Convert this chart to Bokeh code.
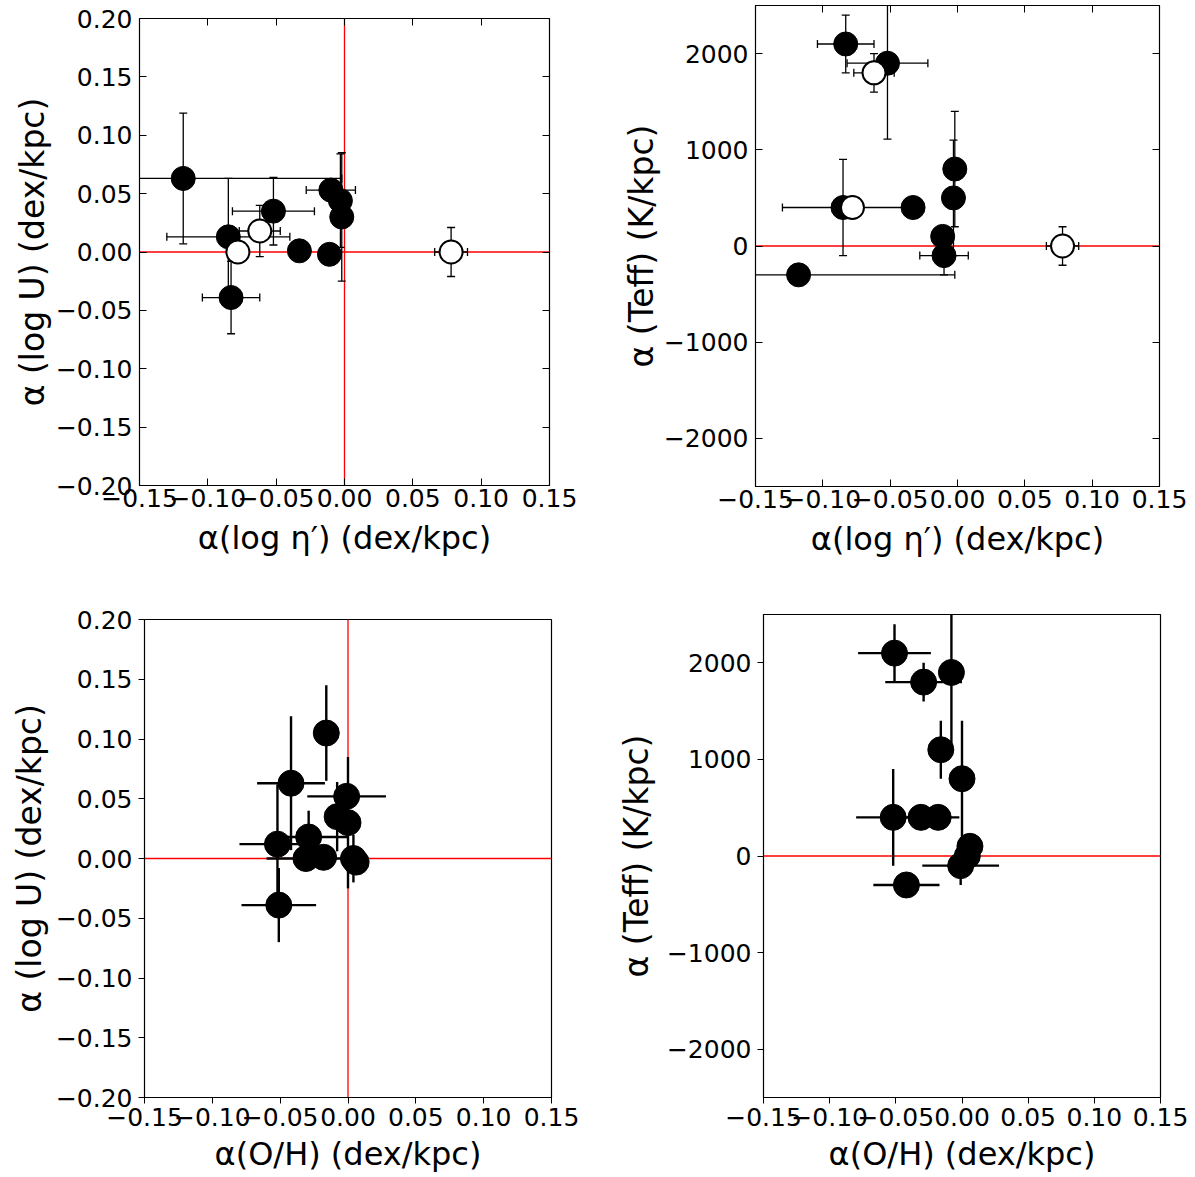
import numpy as np
from bokeh.plotting import figure
from bokeh.models import (ColumnDataSource, Whisker, TeeHead, Span, FixedTicker,
                          LinearAxis, Range1d)
from bokeh.layouts import column, row
from bokeh.embed import file_html
from bokeh.resources import INLINE

# ---------------- tick values and labels ----------------
grad_ticks = [-0.15, -0.10, -0.05, 0.0, 0.05, 0.10, 0.15]
grad_tick_labels = ["\u22120.15", "\u22120.10", "\u22120.05", "0.00", "0.05", "0.10", "0.15"]
logu_ticks = [-0.20, -0.15, -0.10, -0.05, 0.0, 0.05, 0.10, 0.15, 0.20]
logu_tick_labels = ["\u22120.20", "\u22120.15", "\u22120.10", "\u22120.05", "0.00",
                    "0.05", "0.10", "0.15", "0.20"]
teff_ticks = [-2000, -1000, 0, 1000, 2000]
teff_tick_labels = ["\u22122000", "\u22121000", "0", "1000", "2000"]

# ---------------- top row: against alpha(log eta') ----------------
eta_fill = [-0.118, -0.085, -0.083, -0.052, -0.033, -0.010, -0.003, -0.002, -0.011]
eta_fill_err = [0.116, 0.045, 0.021, 0.030, 0.004, 0.018, 0.004, 0.004, 0.004]
logu_fill = [0.063, 0.013, -0.039, 0.035, 0.001, 0.053, 0.044, 0.030, -0.002]
logu_fill_err = [0.056, 0.050, 0.031, 0.029, 0.004, 0.008, 0.040, 0.055, 0.004]
teff_fill = [-300, 400, 2100, 1900, 400, -100, 500, 800, 100]
teff_fill_err = [50, 500, 300, 790, 50, 200, 600, 600, 50]

eta_open = [-0.062, -0.078, 0.078]
eta_open_err = [0.015, 0.005, 0.012]
logu_open = [0.018, 0.000, 0.000]
logu_open_err = [0.022, 0.005, 0.021]
teff_open = [1800, 400, 0]
teff_open_err = [200, 50, 200]

# ---------------- bottom row: against alpha(O/H) ----------------
oh = [-0.016, -0.042, -0.001, -0.008, 0.000, -0.052, -0.029, -0.031, -0.018, 0.004, 0.006, -0.051]
oh_err = [0.003, 0.025, 0.029, 0.003, 0.003, 0.028, 0.029, 0.029, 0.003, 0.003, 0.003, 0.0275]
logu_oh = [0.105, 0.063, 0.052, 0.035, 0.030, 0.012, 0.018, 0.000, 0.001, 0.000, -0.003, -0.039]
logu_oh_err = [0.040, 0.056, 0.008, 0.029, 0.055, 0.050, 0.022, 0.004, 0.004, 0.020, 0.004, 0.031]
teff_oh = [1100, -300, -100, 1900, 800, 400, 1800, 400, 400, 0, 100, 2100]
teff_oh_err = [300, 50, 200, 800, 600, 500, 200, 50, 50, 200, 100, 300]

FONT = "DejaVu Sans"
TICK_FONT_SIZE = "25px"


def style_axis(ax, ticks, labels, tick_in, tick_out, standoff=4, show_labels=True):
    ax.ticker = FixedTicker(ticks=ticks)
    ax.major_label_overrides = dict(zip(ticks, labels))
    ax.minor_tick_line_color = None
    ax.major_tick_in = tick_in
    ax.major_tick_out = tick_out
    ax.major_tick_line_color = "black"
    ax.major_tick_line_width = 1
    ax.axis_line_color = "black"
    ax.major_label_text_font = FONT
    ax.major_label_text_color = "black"
    if show_labels:
        ax.major_label_text_font_size = TICK_FONT_SIZE
        ax.major_label_standoff = standoff
    else:
        ax.major_label_text_font_size = "0px"
        ax.major_label_text_color = None
        ax.major_label_standoff = 0
        ax.axis_line_color = None


def make_panel(width, height, borders, y_range, yticks, ylabels, xlabel, ylabel,
               classic, ylabel_standoff, xtick_standoff, xlabel_standoff, vline):
    left, right, top, bottom = borders
    p = figure(width=width, height=height,
               x_range=Range1d(-0.15, 0.15), y_range=Range1d(*y_range),
               output_backend="svg", toolbar_location=None, tools="",
               min_border_left=left, min_border_right=right,
               min_border_top=top, min_border_bottom=bottom)
    p.grid.visible = False
    p.outline_line_color = "black"
    p.outline_line_width = 1.2
    p.background_fill_color = "white"
    p.border_fill_color = "white"

    t_in, t_out = (7, 0) if classic else (0, 6)
    style_axis(p.xaxis[0], grad_ticks, grad_tick_labels, t_in, t_out, standoff=xtick_standoff)
    style_axis(p.yaxis[0], yticks, ylabels, t_in, t_out, standoff=7 if classic else 6)
    p.xaxis[0].axis_label = xlabel
    p.yaxis[0].axis_label = ylabel
    p.xaxis[0].axis_label_text_font_size = "32px"
    p.yaxis[0].axis_label_text_font_size = "33px"
    for ax in (p.xaxis[0], p.yaxis[0]):
        ax.axis_label_text_font = FONT
        ax.axis_label_text_font_style = "normal"
        ax.axis_label_text_color = "black"
    p.xaxis[0].axis_label_standoff = xlabel_standoff
    p.yaxis[0].axis_label_standoff = ylabel_standoff

    if classic:
        top_ax = LinearAxis()
        right_ax = LinearAxis()
        style_axis(top_ax, grad_ticks, grad_tick_labels, 7, 0, show_labels=False)
        style_axis(right_ax, yticks, ylabels, 7, 0, show_labels=False)
        p.add_layout(top_ax, "above")
        p.add_layout(right_ax, "right")

    p.add_layout(Span(location=0, dimension="width", line_color="red",
                      line_width=1.3, level="underlay"))
    if vline:
        p.add_layout(Span(location=0, dimension="height", line_color="red",
                          line_width=1.3, level="underlay"))
    return p


def add_series(p, x, xerr, y, yerr, filled, caps, size):
    x = np.asarray(x, float)
    y = np.asarray(y, float)
    xerr = np.asarray(xerr, float)
    yerr = np.asarray(yerr, float)
    src = ColumnDataSource(dict(x=x, y=y, xl=x - xerr, xu=x + xerr,
                                yl=y - yerr, yu=y + yerr))
    lw = 1.3 if caps else 2.4
    for dim, base, lo, hi in (("height", "x", "yl", "yu"), ("width", "y", "xl", "xu")):
        if caps:
            heads = dict(upper_head=TeeHead(size=8, line_color="black", line_width=lw),
                         lower_head=TeeHead(size=8, line_color="black", line_width=lw))
        else:
            heads = dict(upper_head=None, lower_head=None)
        p.add_layout(Whisker(source=src, base=base, lower=lo, upper=hi, dimension=dim,
                             line_color="black", line_width=lw, **heads))
    if filled:
        p.scatter("x", "y", source=src, marker="circle", size=size,
                  fill_color="black", line_color="black", line_width=1)
    else:
        p.scatter("x", "y", source=src, marker="circle", size=size,
                  fill_color="white", line_color="black", line_width=2)


eta_label = "\u03b1(log \u03b7\u2032) (dex/kpc)"
oh_label = "\u03b1(O/H) (dex/kpc)"
logu_label = "\u03b1 (log U) (dex/kpc)"
teff_label = "\u03b1 (Teff) (K/kpc)"

# top-left: log U gradient vs eta' gradient
p_tl = make_panel(600, 567, (139, 51, 18, 82), (-0.20, 0.20), logu_ticks, logu_tick_labels,
                  eta_label, logu_label, True, 1, 3, 9, True)
add_series(p_tl, eta_fill, eta_fill_err, logu_fill, logu_fill_err, True, True, 24)
add_series(p_tl, eta_open, eta_open_err, logu_open, logu_open_err, False, True, 23)

# top-right: Teff gradient vs eta' gradient
p_tr = make_panel(595, 567, (155, 36, 5, 81), (-2500, 2500), teff_ticks, teff_tick_labels,
                  eta_label, teff_label, True, 0, 3, 9, False)
add_series(p_tr, eta_fill, eta_fill_err, teff_fill, teff_fill_err, True, True, 24)
add_series(p_tr, eta_open, eta_open_err, teff_open, teff_open_err, False, True, 23)

# bottom-left: log U gradient vs O/H gradient
p_bl = make_panel(600, 610, (144, 49, 52, 80), (-0.20, 0.20), logu_ticks, logu_tick_labels,
                  oh_label, logu_label, False, 4, 4, 6, True)
add_series(p_bl, oh, oh_err, logu_oh, logu_oh_err, True, False, 26)

# bottom-right: Teff gradient vs O/H gradient
p_br = make_panel(595, 610, (163, 35, 47, 80), (-2500, 2500), teff_ticks, teff_tick_labels,
                  oh_label, teff_label, False, 8, 4, 6, False)
add_series(p_br, oh, oh_err, teff_oh, teff_oh_err, True, False, 26)

# each panel sits in its own column so that the frames keep their own borders
layout = column(row(column(p_tl), column(p_tr), spacing=0),
                row(column(p_bl), column(p_br), spacing=0), spacing=0)

with open("out.html", "w") as f:
    f.write(file_html(layout, INLINE))
